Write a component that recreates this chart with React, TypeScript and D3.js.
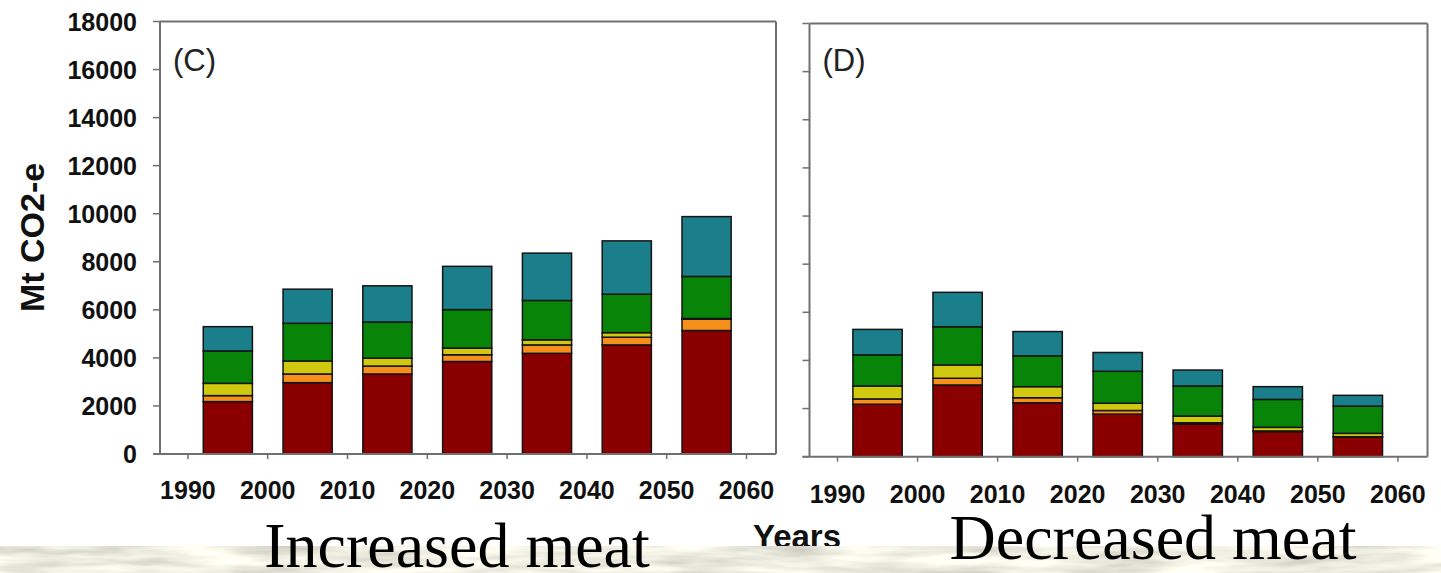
import React from 'react';
import * as d3 from 'd3';

// ---- data ----
const years = [1995, 2005, 2015, 2025, 2035, 2045, 2055];
const layerKeys = ['layer1', 'layer2', 'layer3', 'layer4', 'layer5'];
const layerColors = ['#8a0000', '#f78f1c', '#d1c90f', '#088508', '#1b7e8b'];

// Panel C – Increased meat
const incLayer1 = [2180, 2970, 3330, 3850, 4190, 4540, 5140];
const incLayer2 = [250, 360, 330, 280, 350, 320, 470];
const incLayer3 = [510, 540, 330, 280, 210, 190, 30];
const incLayer4 = [1350, 1570, 1500, 1600, 1640, 1600, 1750];
const incLayer5 = [1010, 1420, 1510, 1800, 1970, 2220, 2490];

// Panel D – Decreased meat
const decLayer1 = [2180, 2980, 2240, 1770, 1360, 1040, 810];
const decLayer2 = [220, 280, 210, 150, 50, 30, 20];
const decLayer3 = [540, 550, 460, 300, 280, 150, 140];
const decLayer4 = [1290, 1590, 1280, 1330, 1250, 1160, 1130];
const decLayer5 = [1060, 1430, 1010, 780, 660, 530, 450];

const yTicks = [0, 2000, 4000, 6000, 8000, 10000, 12000, 14000, 16000, 18000];
const xTicks = [1990, 2000, 2010, 2020, 2030, 2040, 2050, 2060];

const yLabel = 'Mt CO2-e';
const xLabel = 'Years';
const panelTags = ['(C)', '(D)'];
const scenarioLabels = ['Increased meat', 'Decreased meat'];

const buildRows = (ls: number[][]) =>
  years.map((yr, i) => {
    const row: any = { year: yr };
    layerKeys.forEach((k, j) => (row[k] = ls[j][i]));
    return row;
  });

const incRows = buildRows([incLayer1, incLayer2, incLayer3, incLayer4, incLayer5]);
const decRows = buildRows([decLayer1, decLayer2, decLayer3, decLayer4, decLayer5]);

const sans = '"Liberation Sans", Arial, Helvetica, sans-serif';
const serif = '"Liberation Serif", "Times New Roman", Times, serif';
const axisColor = '#707070';

type PanelProps = {
  rows: any[];
  x0: number;
  x1: number;
  yTop: number;
  yZero: number;
  tag: string;
  showYLabels: boolean;
  xLabelBaseline: number;
};

function Panel({ rows, x0, x1, yTop, yZero, tag, showYLabels, xLabelBaseline }: PanelProps) {
  const x = d3.scaleLinear().domain([1986.5, 2063.7]).range([x0, x1]);
  const y = d3.scaleLinear().domain([0, 18000]).range([yZero, yTop]);
  const stacked = d3.stack<any>().keys(layerKeys)(rows);
  const barW = x(1995 + 3.08) - x(1995 - 3.08);

  return (
    <g>
      {stacked.map((s, si) => (
        <g key={s.key} fill={layerColors[si]}>
          {s.map((d, i) => (
            <rect
              key={i}
              x={x(d.data.year) - barW / 2}
              y={y(d[1])}
              width={barW}
              height={Math.max(0, y(d[0]) - y(d[1]))}
              stroke="#141414"
              strokeWidth={1.5}
            />
          ))}
        </g>
      ))}
      {/* frame */}
      <line x1={x0} x2={x1} y1={yTop} y2={yTop} stroke={axisColor} strokeWidth={2} />
      <line x1={x1} x2={x1} y1={yTop} y2={yZero} stroke={axisColor} strokeWidth={2} />
      <line x1={x0} x2={x0} y1={yTop} y2={yZero} stroke={axisColor} strokeWidth={2} />
      <line x1={x0 - 7} x2={x1} y1={yZero} y2={yZero} stroke={axisColor} strokeWidth={2} />
      {/* y ticks */}
      {yTicks.map((t) => (
        <g key={t}>
          <line x1={x0 - 7} x2={x0} y1={y(t)} y2={y(t)} stroke={axisColor} strokeWidth={1.5} />
          {showYLabels && (
            <text
              x={x0 - 23}
              y={y(t)}
              dy="0.36em"
              textAnchor="end"
              fontFamily={sans}
              fontWeight="bold"
              fontSize={25}
              fill="#111"
            >
              {t}
            </text>
          )}
        </g>
      ))}
      {/* x ticks */}
      {xTicks.map((t) => (
        <g key={t}>
          <line x1={x(t)} x2={x(t)} y1={yZero} y2={yZero + 5} stroke={axisColor} strokeWidth={1.5} />
          <text
            x={x(t)}
            y={xLabelBaseline}
            textAnchor="middle"
            fontFamily={sans}
            fontWeight="bold"
            fontSize={25}
            fill="#111"
          >
            {t}
          </text>
        </g>
      ))}
      <text x={x0 + 13} y={71} fontFamily={sans} fontSize={31} fill="#222">
        {tag}
      </text>
    </g>
  );
}

export default function App() {
  return (
    <svg
      width={1441}
      height={573}
      style={{ position: 'absolute', left: 0, top: 0, background: '#fff' }}
    >
      <defs>
        <filter id="parchment" x="0" y="0" width="100%" height="100%">
          <feTurbulence type="fractalNoise" baseFrequency="0.012 0.09" numOctaves={3} seed={7} result="n" />
          <feColorMatrix
            in="n"
            type="matrix"
            values="0.7 0 0 0 0.52  0.7 0 0 0 0.51  0.65 0 0 0 0.44  0 0 0 0 1"
          />
        </filter>
      </defs>
      <rect x={0} y={0} width={1441} height={573} fill="#fff" />

      <Panel
        rows={incRows}
        x0={160}
        x1={776}
        yTop={21.5}
        yZero={454}
        tag={panelTags[0]}
        showYLabels={true}
        xLabelBaseline={499}
      />
      <Panel
        rows={decRows}
        x0={809.5}
        x1={1427.5}
        yTop={23.5}
        yZero={456.7}
        tag={panelTags[1]}
        showYLabels={false}
        xLabelBaseline={503}
      />

      <text
        transform="translate(44,237.5) rotate(-90)"
        textAnchor="middle"
        fontFamily={sans}
        fontWeight="bold"
        fontSize={34}
        fill="#111"
      >
        {yLabel}
      </text>
      <text x={797} y={548} textAnchor="middle" fontFamily={sans} fontWeight="bold" fontSize={33} fill="#111">
        {xLabel}
      </text>

      {/* textured band at the bottom */}
      <rect x={0} y={546} width={1441} height={27} filter="url(#parchment)" />

      <text x={457} y={567} textAnchor="middle" fontFamily={serif} fontSize={64} fill="#000">
        {scenarioLabels[0]}
      </text>
      <text x={1153} y={559} textAnchor="middle" fontFamily={serif} fontSize={64} fill="#000">
        {scenarioLabels[1]}
      </text>
    </svg>
  );
}
